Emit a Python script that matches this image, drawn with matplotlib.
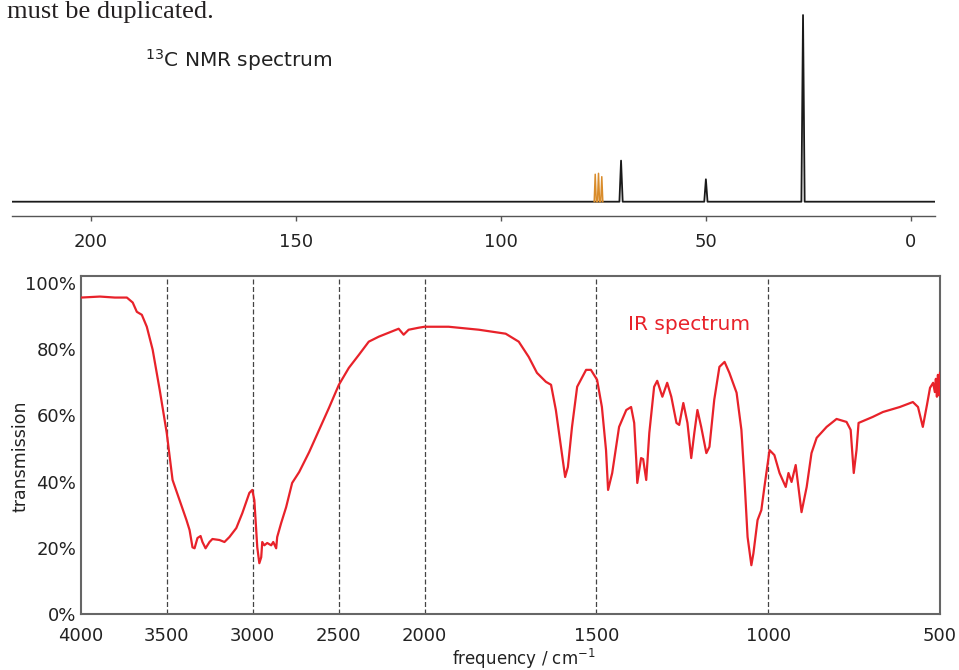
import matplotlib
matplotlib.use('Agg')
import matplotlib.pyplot as plt
import numpy as np

plt.rcParams['font.family'] = ['DejaVu Sans']

# 13C NMR peaks (ppm, relative height; largest = 100)
nmr_peak_ppm = [70.7, 50.0, 26.3]
nmr_peak_height = [22, 12, 100]
solvent_ppm = [77.0, 76.2, 75.4]
solvent_height = [14.7, 15.2, 13.4]
nmr_ticks = [200, 150, 100, 50, 0]

# IR spectrum (cm-1, % transmission)
ir_wavenumber = [4000, 3890, 3803, 3733, 3699, 3675, 3646, 3617, 3583, 3542,
                 3501, 3467, 3426, 3386, 3368, 3351, 3339, 3322, 3304, 3293,
                 3275, 3252, 3235, 3194, 3165, 3136, 3096, 3061, 3020, 3003,
                 2991, 2974, 2962, 2951, 2945, 2933, 2916, 2893, 2881, 2864,
                 2858, 2835, 2806, 2771, 2730, 2672, 2614, 2557, 2499, 2441,
                 2383, 2325, 2267, 2209, 2151, 2122, 2093, 2035, 2000, 1930,
                 1842, 1764, 1726, 1697, 1673, 1647, 1632, 1618, 1603, 1591,
                 1583, 1571, 1556, 1530, 1516, 1498, 1484, 1472, 1466, 1454,
                 1434, 1413, 1399, 1390, 1384, 1381, 1370, 1364, 1355, 1346,
                 1332, 1323, 1308, 1294, 1282, 1267, 1259, 1247, 1235, 1224,
                 1215, 1206, 1195, 1180, 1171, 1157, 1142, 1127, 1113, 1092,
                 1078, 1069, 1060, 1049, 1043, 1031, 1020, 1011, 996, 982,
                 967, 949, 941, 932, 920, 903, 888, 874, 859, 830,
                 801, 772, 760, 751, 743, 737, 696, 666, 617, 579,
                 564, 550, 538, 529, 520, 515, 512, 509, 506, 503, 500]
ir_transmission = [95.5, 95.8, 95.5, 95.5, 94.0, 91.2, 90.3, 86.7, 79.8, 67.7,
                   54.7, 40.5, 34.4, 28.4, 25.4, 20.2, 19.9, 23.0, 23.6, 21.8,
                   19.9, 21.8, 22.7, 22.4, 21.8, 23.3, 26.0, 30.5, 36.6, 37.5,
                   34.4, 20.2, 15.4, 17.2, 21.8, 20.8, 21.5, 20.8, 21.8, 19.9,
                   23.3, 27.5, 32.3, 39.6, 42.9, 48.9, 55.6, 62.2, 69.2, 74.3,
                   78.2, 82.2, 83.7, 84.9, 86.1, 84.3, 85.8, 86.4, 86.7, 86.7,
                   85.8, 84.6, 82.2, 77.6, 72.8, 70.1, 69.2, 61.6, 50.5, 41.4,
                   44.4, 56.5, 68.6, 73.7, 73.7, 70.7, 62.5, 49.5, 37.5, 42.6,
                   56.5, 61.6, 62.5, 57.7, 46.5, 39.6, 47.1, 46.8, 40.5, 54.7,
                   68.6, 70.4, 65.6, 69.8, 65.6, 57.7, 57.1, 63.7, 57.7, 47.1,
                   54.7, 61.6, 56.5, 48.6, 50.5, 64.7, 74.6, 76.1, 72.8, 66.8,
                   55.6, 40.5, 23.3, 14.8, 18.4, 28.4, 31.4, 38.4, 49.5, 48.0,
                   42.6, 38.4, 42.6, 39.9, 45.0, 30.8, 38.4, 48.6, 53.2, 56.5,
                   58.9, 58.0, 55.6, 42.6, 49.5, 57.7, 59.5, 61.0, 62.5, 64.0,
                   62.5, 56.5, 63.1, 68.3, 69.8, 67.0, 71.0, 65.6, 72.2, 66.0, 72.8]
ir_grid = [3500, 3000, 2500, 2000, 1500, 1000]
ir_xticks = [4000, 3500, 3000, 2500, 2000, 1500, 1000, 500]
ir_yticks = [0, 20, 40, 60, 80, 100]

W, H = 959, 670
fig = plt.figure(figsize=(W / 100, H / 100), dpi=100)

fig.text(7 / W, 1 - 18 / H, 'must be duplicated.', family='Liberation Serif',
         fontsize=19, color='#231f20', ha='left', va='baseline')


def spikes(ppm, height, width=0.4):
    xs, ys = [], []
    for p, h in sorted(zip(ppm, height), reverse=True):
        xs += [p + width, p, p - width]
        ys += [0, h, 0]
    return xs, ys


# NMR panel
ax_nmr = fig.add_axes([12 / W, 1 - 215.7 / H, 923 / W, 205.7 / H])
xs, ys = spikes(nmr_peak_ppm, nmr_peak_height)
ax_nmr.plot([219.3] + xs + [-5.9], [0] + ys + [0], color='#1a1a1a', lw=1.3)
sx, sy = spikes(solvent_ppm, solvent_height, width=0.25)
ax_nmr.plot(sx, sy, color='#d98c2b', lw=1.1)
ax_nmr.set_xlim(219.3, -5.9)
ax_nmr.set_ylim(-7.5, 102.7)
ax_nmr.set_xticks(nmr_ticks)
ax_nmr.set_yticks([])
for s in ['top', 'left', 'right']:
    ax_nmr.spines[s].set_visible(False)
ax_nmr.spines['bottom'].set_color('#555555')
ax_nmr.spines['bottom'].set_linewidth(1.0)
ax_nmr.tick_params(axis='x', length=3.6, width=1, color='#555555', pad=9,
                   labelsize=13, labelcolor='#222222')
ax_nmr.text((145 - 12) / 923, 1 - (66.7 - 10) / 205.7, r'$^{13}$C NMR spectrum',
            transform=ax_nmr.transAxes, fontsize=14.5, color='#222222',
            ha='left', va='baseline')

# IR panel
ax_ir = fig.add_axes([81 / W, 1 - 614.3 / H, 859 / W, 338.3 / H])


def fwd(x):
    x = np.asarray(x, dtype=float)
    return np.where(x > 2000, 2000 + (x - 2000) / 2, x)


def inv(x):
    x = np.asarray(x, dtype=float)
    return np.where(x > 2000, 2000 + (x - 2000) * 2, x)


ax_ir.set_xscale('function', functions=(fwd, inv))
for g in ir_grid:
    ax_ir.axvline(g, color='#444444', lw=0.9, linestyle=(0, (4, 2)), zorder=1)
ax_ir.plot(ir_wavenumber, ir_transmission, color='#e8222a', lw=1.6, zorder=3)
ax_ir.set_xlim(4000, 500)
ax_ir.set_ylim(0, 102)
ax_ir.set_xticks(ir_xticks)
ax_ir.set_xticklabels([str(t) for t in ir_xticks])
ax_ir.set_yticks(ir_yticks)
ax_ir.set_yticklabels([f'{t}%' for t in ir_yticks])
ax_ir.xaxis.set_minor_locator(matplotlib.ticker.NullLocator())
for s in ax_ir.spines.values():
    s.set_color('#666666')
    s.set_linewidth(1.5)
ax_ir.tick_params(axis='x', length=0, pad=9, labelsize=13, labelcolor='#222222')
ax_ir.tick_params(axis='y', length=0, pad=3.6, labelsize=13, labelcolor='#222222')
ax_ir.set_xlabel(r'frequency / cm$^{-1}$', fontsize=12, color='#222222')
ax_ir.xaxis.set_label_coords(0.516, -0.097)
ax_ir.set_ylabel('transmission', fontsize=12.5, color='#222222')
ax_ir.yaxis.label.set_va('center')
ax_ir.yaxis.set_label_coords(-0.071, 0.467)
ax_ir.text(0.637, 0.840, 'IR spectrum', transform=ax_ir.transAxes,
           fontsize=14.5, color='#e8222a', ha='left', va='baseline')

fig.savefig('out.png', dpi=100)
